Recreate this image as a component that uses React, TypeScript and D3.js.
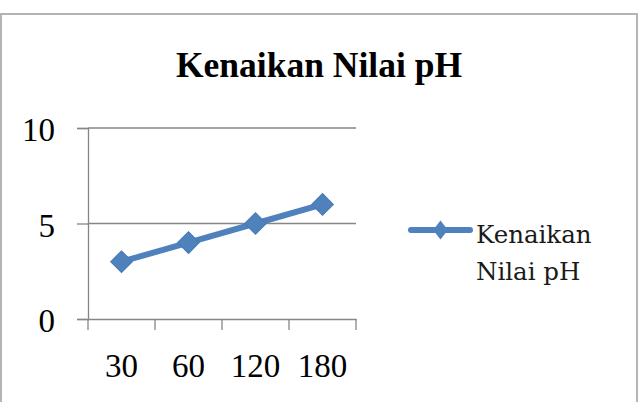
import React, { useEffect, useRef } from 'react';
import * as d3 from 'd3';

const categories = ['30', '60', '120', '180'];
const phValues = [3, 4, 5, 6];
const yTicks = [0, 5, 10];
const chartTitle = 'Kenaikan Nilai pH';
const seriesName = ['Kenaikan', 'Nilai pH'];

const W = 640;
const H = 402;
const plot = { left: 88, right: 356, top: 128, bottom: 319 };
const blue = '#4F81BD';
const grid = '#868686';
const serif = '"Liberation Serif", "Times New Roman", serif';

const App = () => {
  const ref = useRef<SVGSVGElement>(null);

  useEffect(() => {
    const svg = d3.select(ref.current);
    svg.selectAll('*').remove();

    // chart frame (bottom edge is cut off in the original)
    svg.append('path')
      .attr('d', `M1,${H} V14 H637 V${H}`)
      .attr('fill', 'none')
      .attr('stroke', '#b4b4b4')
      .attr('stroke-width', 2);

    svg.append('text')
      .attr('x', 319)
      .attr('y', 77)
      .attr('text-anchor', 'middle')
      .style('font-family', serif)
      .style('font-weight', 'bold')
      .style('font-size', '35.5px')
      .text(chartTitle);

    const x = d3.scaleBand<string>()
      .domain(categories)
      .range([plot.left, plot.right]);

    const y = d3.scaleLinear()
      .domain([0, 10])
      .range([plot.bottom, plot.top]);

    // gridlines
    svg.append('g')
      .selectAll('line')
      .data(yTicks.filter(d => d > 0))
      .join('line')
      .attr('x1', plot.left)
      .attr('x2', plot.right)
      .attr('y1', d => y(d))
      .attr('y2', d => y(d))
      .attr('stroke', grid)
      .attr('stroke-width', 1.3);

    // y axis
    const yAxis = svg.append('g')
      .attr('transform', `translate(${plot.left},0)`)
      .call(d3.axisLeft(y).tickValues(yTicks).tickSize(11).tickPadding(22));
    yAxis.select('.domain').attr('stroke', grid).attr('stroke-width', 1.3);
    yAxis.selectAll('.tick line').attr('stroke', grid).attr('stroke-width', 1.3);
    yAxis.selectAll('.tick text')
      .attr('fill', '#000')
      .attr('dy', '0.38em')
      .style('font-family', serif)
      .style('font-size', '33px');

    // x axis
    const xAxis = svg.append('g')
      .attr('transform', `translate(0,${plot.bottom})`)
      .call(d3.axisBottom(x).tickSize(0).tickPadding(0));
    xAxis.select('.domain').attr('stroke', grid).attr('stroke-width', 1.3);
    xAxis.selectAll('.tick text')
      .attr('fill', '#000')
      .attr('dy', null)
      .attr('y', 58)
      .style('font-family', serif)
      .style('font-size', '33px');
    const bounds = [...categories.map(c => x(c) as number), plot.right];
    xAxis.append('g')
      .selectAll('line')
      .data(bounds)
      .join('line')
      .attr('x1', d => d)
      .attr('x2', d => d)
      .attr('y1', 0)
      .attr('y2', 11)
      .attr('stroke', grid)
      .attr('stroke-width', 1.3);

    const cx = (d: string) => (x(d) as number) + x.bandwidth() / 2;

    const line = d3.line<number>()
      .x((d, i) => cx(categories[i]))
      .y(d => y(d));

    svg.append('path')
      .datum(phValues)
      .attr('d', line)
      .attr('fill', 'none')
      .attr('stroke', blue)
      .attr('stroke-width', 6)
      .attr('stroke-linejoin', 'round');

    const diamond = d3.symbol().type(d3.symbolSquare).size(235);
    svg.append('g')
      .selectAll('path')
      .data(phValues)
      .join('path')
      .attr('d', diamond)
      .attr('transform', (d, i) => `translate(${cx(categories[i])},${y(d)}) rotate(45)`)
      .attr('fill', blue)
      .attr('stroke', '#4a7ab3')
      .attr('stroke-width', 1);

    // legend
    const lg = svg.append('g').attr('transform', 'translate(411,230)');
    lg.append('line')
      .attr('x1', 0).attr('x2', 59)
      .attr('stroke', blue)
      .attr('stroke-width', 6)
      .attr('stroke-linecap', 'round');
    lg.append('path')
      .attr('d', d3.symbol().type(d3.symbolSquare).size(150))
      .attr('transform', 'translate(29.5,0) scale(0.85,1.1) rotate(45)')
      .attr('fill', blue);
    lg.append('text')
      .style('font-family', '"DejaVu Serif", serif')
      .style('font-size', '24.5px')
      .attr('fill', '#1a1a1a')
      .selectAll('tspan')
      .data(seriesName)
      .join('tspan')
      .attr('x', 65)
      .attr('y', (d, i) => 13 + i * 37)
      .text(d => d);
  }, []);

  return (
    <svg
      ref={ref}
      width={W}
      height={H}
      style={{ position: 'absolute', left: 0, top: 0, background: '#fff' }}
    />
  );
};

export default App;
